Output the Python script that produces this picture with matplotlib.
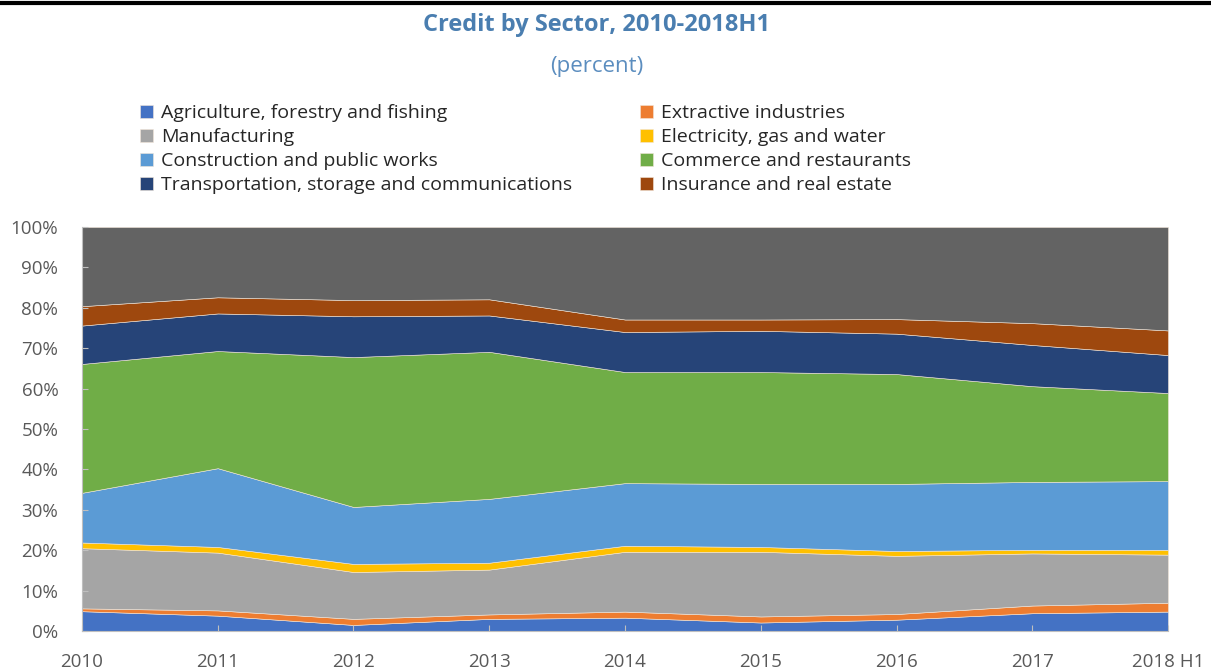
import matplotlib.pyplot as plt
import numpy as np
from matplotlib.lines import Line2D

years = ["2010", "2011", "2012", "2013", "2014", "2015", "2016", "2017", "2018 H1"]

# sector shares of total credit (percent)
agriculture = [4.9, 3.8, 1.5, 3.0, 3.3, 2.1, 2.8, 4.4, 4.8]
extractive = [0.7, 1.3, 1.5, 1.1, 1.5, 1.5, 1.4, 1.9, 2.2]
manufacturing = [14.9, 14.3, 11.6, 11.1, 14.8, 16.0, 14.4, 12.9, 11.9]
electricity = [1.4, 1.4, 2.0, 1.7, 1.5, 1.2, 1.2, 0.9, 1.2]
construction = [12.3, 19.5, 14.1, 15.8, 15.5, 15.6, 16.6, 16.8, 17.0]
commerce = [31.9, 29.0, 37.1, 36.4, 27.5, 27.7, 27.2, 23.7, 21.8]
transport = [9.5, 9.3, 10.1, 9.0, 9.9, 10.2, 10.0, 10.2, 9.4]
insurance = [4.8, 4.0, 4.0, 4.0, 3.1, 2.8, 3.6, 5.4, 6.1]
other = [19.6, 17.4, 18.1, 17.9, 22.9, 22.9, 22.8, 23.8, 25.6]

labels = ["Agriculture, forestry and fishing", "Extractive industries", "Manufacturing",
          "Electricity, gas and water", "Construction and public works",
          "Commerce and restaurants", "Transportation, storage and communications",
          "Insurance and real estate", "Other"]
colors = ["#4472C4", "#ED7D31", "#A5A5A5", "#FFC000", "#5B9BD5",
          "#70AD47", "#264478", "#9E480E", "#636363"]

plt.rcParams['font.family'] = ['Open Sans', 'DejaVu Sans']

fig = plt.figure(figsize=(12.11, 6.69), dpi=100)
ax = fig.add_axes([0.0677, 0.0568, 0.8968, 0.6039])

x = np.arange(len(years))
polys = ax.stackplot(x, agriculture, extractive, manufacturing, electricity, construction,
                     commerce, transport, insurance, other,
                     colors=colors, labels=labels, edgecolor="#f2e6d9", linewidth=0.4)

ax.set_xlim(0, len(years) - 1)
ax.set_ylim(0, 100)
ax.set_xticks(x)
ax.set_xticklabels(years)
ax.set_yticks(range(0, 101, 10))
ax.set_yticklabels([f"{v}%" for v in range(0, 101, 10)])
ax.tick_params(axis="both", direction="in", colors="#BFBFBF", labelcolor="#595959",
               labelsize=13.5, length=4)
ax.tick_params(axis="x", pad=16)
ax.tick_params(axis="y", pad=17)
for side in ["top", "right"]:
    ax.spines[side].set_visible(False)
for side in ["left", "bottom"]:
    ax.spines[side].set_color("#BFBFBF")

# legend in row order, two columns
order = [0, 2, 4, 6, 1, 3, 5, 7]
leg = fig.legend([polys[i] for i in order], [labels[i] for i in order],
                 loc="upper left", bbox_to_anchor=(0.1153, 0.8445), ncol=2,
                 frameon=False, fontsize=14, handlelength=0.68, handleheight=0.68,
                 handletextpad=0.4, columnspacing=3.5, labelspacing=0.31,
                 borderaxespad=0, borderpad=0)
for t in leg.get_texts():
    t.set_color("#262626")

fig.text(0.493, 0.962, "Credit by Sector, 2010-2018H1", ha="center", va="center",
         fontsize=17, fontweight="bold", color="#4A7EB0")
fig.text(0.493, 0.901, "(percent)", ha="center", va="center",
         fontsize=16, color="#5B8DBF")
fig.add_artist(Line2D([0, 1], [0.9955, 0.9955], transform=fig.transFigure,
                      color="black", linewidth=3))

fig.savefig("out.png", dpi=100)
